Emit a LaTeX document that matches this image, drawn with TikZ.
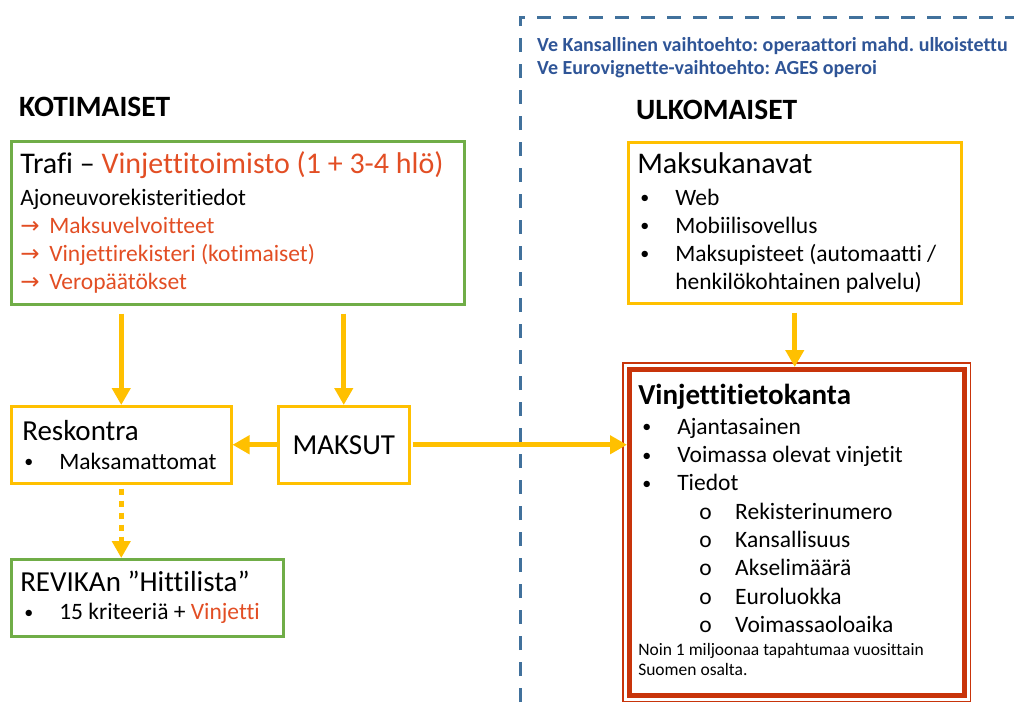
\documentclass[tikz,border=0pt]{standalone}
\usepackage{fontspec}
\setmainfont{Carlito}[Ligatures=NoCommon]
\newfontfamily\arrowfont{DejaVu Sans}
\usepackage{tikz}
\usetikzlibrary{arrows.meta,calc}
\usepackage{xcolor}
\frenchspacing

\definecolor{boxgreen}{RGB}{112,173,71}
\definecolor{boxyellow}{RGB}{255,192,0}
\definecolor{boxred}{RGB}{200,52,10}
\definecolor{txtred}{RGB}{226,78,36}
\definecolor{txtblue}{RGB}{47,85,151}
\definecolor{lineblue}{RGB}{65,113,156}

\newcommand{\bul}[1]{\makebox[35pt][l]{\raisebox{1.5pt}{\fontsize{18}{18}\selectfont\textbullet}}#1}
\newcommand{\subbul}[1]{\hspace*{61pt}\makebox[36pt][l]{o}#1}
\newcommand{\redarrow}[1]{\textcolor{txtred}{\makebox[29pt][l]{\arrowfont\fontsize{23}{28}\selectfont →}#1}}

\begin{document}
\begin{tikzpicture}[x=1pt, y=-1pt,
    infobox/.style={rectangle, draw, line width=2.5pt, anchor=north west, inner xsep=9pt, inner ysep=0pt,
        align=flush left, font=\fontsize{23.5}{28}\selectfont},
    flow/.style={draw=boxyellow, line width=5pt, -{Triangle[width=18pt, length=17pt]}},
    heading/.style={anchor=west, inner sep=0pt, font=\bfseries\fontsize{29.5}{30}\selectfont},
]
    \useasboundingbox (0,0) rectangle (1014,702);

    % divider between domestic and foreign part
    \coordinate (divbottom) at (520,702);
    \coordinate (divcorner) at (520,17);
    \coordinate (divright) at (1014,17);
    \draw[lineblue, line width=3pt, dash pattern=on 14pt off 12pt] (divbottom) -- (divcorner) -- (divright);

    \node[anchor=north west, inner sep=0pt, align=flush left, text=txtblue, font=\bfseries\fontsize{20}{23}\selectfont] (operator) at (537,37) {
        Ve Kansallinen vaihtoehto: operaattori mahd. ulkoistettu\\
        Ve Eurovignette-vaihtoehto: AGES operoi
    };

    \node[heading] (kotimaiset) at (19,107) {KOTIMAISET};
    \node[heading] (ulkomaiset) at (636,110) {ULKOMAISET};

    % domestic side
    \node[infobox, draw=boxgreen, text width=435pt, minimum height=163pt] (trafi) at (10,140) {
        {\fontsize{30}{36}\selectfont Trafi -- \textcolor{txtred}{Vinjettitoimisto (1 + 3-4 hlö)}}\\[4pt]
        Ajoneuvorekisteritiedot\\
        \redarrow{Maksuvelvoitteet}\\
        \redarrow{Vinjettirekisteri (kotimaiset)}\\
        \redarrow{Veropäätökset}
    };

    \node[infobox, draw=boxyellow, text width=202pt, minimum height=77pt] (reskontra) at (10,405) {
        \hspace*{2pt}{\fontsize{29}{34}\selectfont Reskontra}\\[1pt]
        \hspace*{4pt}\bul{Maksamattomat}
    };

    \node[infobox, draw=boxyellow, text width=113pt, minimum height=77pt, align=center,
        font=\fontsize{29}{34}\selectfont] (maksut) at (277,405) {MAKSUT};

    \node[infobox, draw=boxgreen, text width=254pt, minimum height=77pt] (revika) at (10,558) {
        {\fontsize{29}{34}\selectfont REVIKAn ”Hittilista”}\\[0pt]
        \hspace*{4pt}\bul{15 kriteeriä + \textcolor{txtred}{Vinjetti}}
    };

    % foreign side
    \node[infobox, draw=boxyellow, text width=315pt, minimum height=161pt] (kanavat) at (627,141) {
        {\fontsize{30}{36}\selectfont Maksukanavat}\\[4pt]
        \hspace*{3pt}\bul{Web}\\
        \hspace*{3pt}\bul{Mobiilisovellus}\\
        \hspace*{3pt}\bul{Maksupisteet (automaatti /}\\
        \hspace*{38pt}henkilökohtainen palvelu)
    };

    \node[infobox, draw=boxred, line width=4.5pt, text width=317pt, minimum height=326pt,
        font=\fontsize{23.5}{28.3}\selectfont] (vtk) at (627,367) {
        {\bfseries\fontsize{29}{34}\selectfont Vinjettitietokanta}\\[1pt]
        \hspace*{4pt}\bul{Ajantasainen}\\
        \hspace*{4pt}\bul{Voimassa olevat vinjetit}\\
        \hspace*{4pt}\bul{Tiedot}\\
        \subbul{Rekisterinumero}\\
        \subbul{Kansallisuus}\\
        \subbul{Akselimäärä}\\
        \subbul{Euroluokka}\\
        \subbul{Voimassaoloaika}\\[-5pt]
        {\fontsize{17.5}{20}\selectfont Noin 1 miljoonaa tapahtumaa vuosittain}\\[-8pt]
        {\fontsize{17.5}{20}\selectfont Suomen osalta.}\rule[-4pt]{0pt}{4pt}
    };
    \draw[boxred, line width=1.2pt] ([shift={(-4,-4)}]vtk.north west) rectangle ([shift={(4,4)}]vtk.south east);

    % connectors
    \draw[flow, shorten <=8pt] (trafi.south -| reskontra.north) -- (reskontra.north);
    \draw[flow, shorten <=8pt] (trafi.south -| maksut.north) -- (maksut.north);
    \draw[flow] (maksut.west) -- (reskontra.east);
    \draw[flow, shorten <=2pt] (maksut.east) -- (maksut.east -| vtk.west);
    \draw[flow, shorten <=8pt] (kanavat.south) -- (kanavat.south |- vtk.north);
    \draw[flow, dash pattern=on 6pt off 6pt, shorten <=4pt] (reskontra.south) -- (reskontra.south |- revika.north);
\end{tikzpicture}
\end{document}
